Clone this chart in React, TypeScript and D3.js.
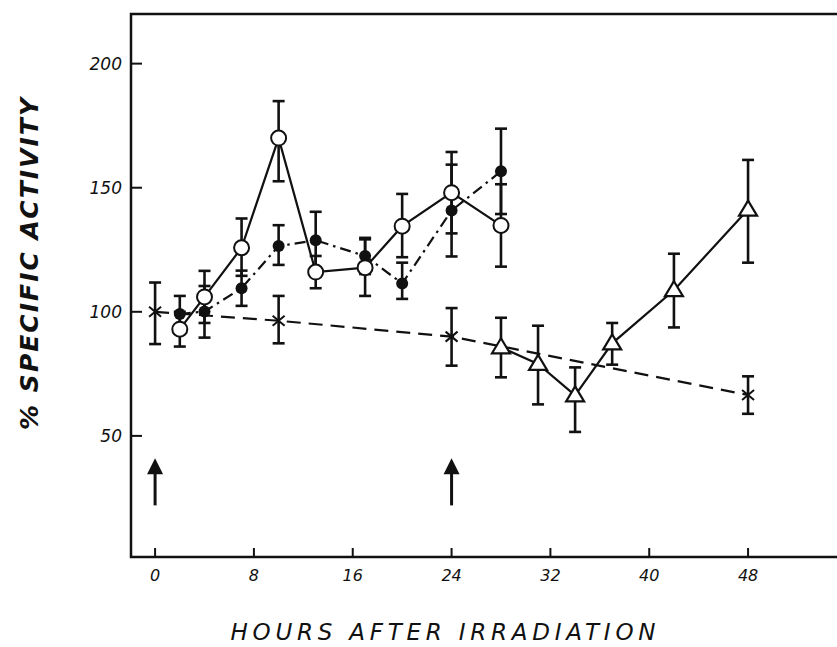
import { useEffect, useRef } from "react";
import * as d3 from "d3";

const width = 837;
const height = 647;
const frameLeft = 131;
const frameRight = 837;
const frameTop = 14;
const frameBottom = 557;

// hours after irradiation / % specific activity
const hoursCross = [0, 10, 24, 48];
const crossVals = [100, 96.4, 90, 66.5];
const crossLo = [87, 87.3, 78.3, 58.9];
const crossHi = [111.8, 106.4, 101.5, 74];

const hoursOpen = [2, 4, 7, 10, 13, 17, 20, 24, 28];
const openVals = [93, 106, 125.8, 170, 116, 117.8, 134.5, 148, 134.8];
const openLo = [86, 95.5, 114.5, 152.6, 109.5, 106.4, 122, 131.6, 118.2];
const openHi = [100, 116.5, 137.6, 184.9, 122.5, 129.2, 147.5, 164.4, 151.4];

const hoursFilled = [2, 4, 7, 10, 13, 17, 20, 24, 28];
const filledVals = [99.1, 100.1, 109.5, 126.5, 128.8, 122.5, 111.4, 140.8, 156.6];
const filledLo = [91.8, 89.6, 102.4, 118.9, 117.3, 115.2, 105.2, 122.3, 139.4];
const filledHi = [106.4, 110.4, 116.6, 134.9, 140.3, 129.8, 119.8, 159.3, 173.8];

const hoursTri = [28, 31, 34, 37, 42, 48];
const triVals = [85.7, 79, 66.3, 87.3, 108.7, 141.2];
const triLo = [73.6, 62.7, 51.6, 78.7, 93.7, 119.8];
const triHi = [97.6, 94.4, 77.6, 95.5, 123.4, 161.2];

// irradiation arrows
const arrowHours = [0, 24];
const arrowFrom = 22;
const arrowTo = 41;

const xTicks = [0, 8, 16, 24, 32, 40, 48];
const yTicks = [50, 100, 150, 200];

const x = d3.scaleLinear().domain([-1.95, 55.2]).range([frameLeft, frameRight]);
const y = d3.scaleLinear().domain([1.2, 220]).range([frameBottom, frameTop]);

const zip = (h: number[], v: number[], lo: number[], hi: number[]) =>
  h.map((d, i) => ({ h: d, v: v[i], lo: lo[i], hi: hi[i] }));

const App = () => {
  const ref = useRef<SVGGElement>(null);

  useEffect(() => {
    const g = d3.select(ref.current);
    g.selectAll("*").remove();

    const cross = zip(hoursCross, crossVals, crossLo, crossHi);
    const open = zip(hoursOpen, openVals, openLo, openHi);
    const filled = zip(hoursFilled, filledVals, filledLo, filledHi);
    const tri = zip(hoursTri, triVals, triLo, triHi);

    const line = d3
      .line<{ h: number; v: number }>()
      .x((d) => x(d.h))
      .y((d) => y(d.v));

    // lines
    g.append("path")
      .attr("d", line(cross))
      .attr("fill", "none")
      .attr("stroke", "#111")
      .attr("stroke-width", 2.2)
      .attr("stroke-dasharray", "14 8");
    g.append("path")
      .attr("d", line(filled))
      .attr("fill", "none")
      .attr("stroke", "#111")
      .attr("stroke-width", 2.2)
      .attr("stroke-dasharray", "11 5 2.5 5");
    g.append("path")
      .attr("d", line(open))
      .attr("fill", "none")
      .attr("stroke", "#111")
      .attr("stroke-width", 2.2);
    g.append("path")
      .attr("d", line(tri))
      .attr("fill", "none")
      .attr("stroke", "#111")
      .attr("stroke-width", 2.2);

    // error bars
    const bars = [...cross, ...open, ...filled, ...tri];
    const eb = g.append("g").attr("stroke", "#111").attr("stroke-width", 2.6);
    bars.forEach((d) => {
      eb.append("line")
        .attr("x1", x(d.h))
        .attr("x2", x(d.h))
        .attr("y1", y(d.lo))
        .attr("y2", y(d.hi));
      [d.lo, d.hi].forEach((v) => {
        eb.append("line")
          .attr("x1", x(d.h) - 6)
          .attr("x2", x(d.h) + 6)
          .attr("y1", y(v))
          .attr("y2", y(v));
      });
    });

    // markers
    g.selectAll(".cross")
      .data(cross)
      .join("path")
      .attr("class", "cross")
      .attr("transform", (d) => `translate(${x(d.h)},${y(d.v)})`)
      .attr("d", "M-6,-5L6,5M-6,5L6,-5")
      .attr("stroke", "#111")
      .attr("stroke-width", 2);

    g.selectAll(".filled")
      .data(filled)
      .join("circle")
      .attr("class", "filled")
      .attr("cx", (d) => x(d.h))
      .attr("cy", (d) => y(d.v))
      .attr("r", 6)
      .attr("fill", "#111");

    g.selectAll(".open")
      .data(open)
      .join("circle")
      .attr("class", "open")
      .attr("cx", (d) => x(d.h))
      .attr("cy", (d) => y(d.v))
      .attr("r", 7.5)
      .attr("fill", "white")
      .attr("stroke", "#111")
      .attr("stroke-width", 2);

    g.selectAll(".tri")
      .data(tri)
      .join("path")
      .attr("class", "tri")
      .attr("transform", (d) => `translate(${x(d.h)},${y(d.v)})`)
      .attr("d", "M0,-9L9,6L-9,6Z")
      .attr("fill", "white")
      .attr("stroke", "#111")
      .attr("stroke-width", 2.2);

    // arrows
    arrowHours.forEach((h) => {
      const ax = x(h);
      g.append("line")
        .attr("x1", ax)
        .attr("x2", ax)
        .attr("y1", y(arrowFrom))
        .attr("y2", y(arrowTo) + 12)
        .attr("stroke", "#111")
        .attr("stroke-width", 3);
      g.append("path")
        .attr(
          "d",
          `M${ax},${y(arrowTo)}L${ax + 8},${y(arrowTo) + 16}L${ax - 8},${y(arrowTo) + 16}Z`
        )
        .attr("fill", "#111");
    });
  }, []);

  return (
    <svg
      width={width}
      height={height}
      style={{ position: "absolute", left: 0, top: 0, background: "white" }}
    >
      {/* frame */}
      <path
        d={`M${frameRight},${frameTop}H${frameLeft}V${frameBottom}H${frameRight}`}
        fill="none"
        stroke="#111"
        strokeWidth={2.5}
      />
      {xTicks.map((t) => (
        <g key={t}>
          <line
            x1={x(t)}
            x2={x(t)}
            y1={frameBottom}
            y2={frameBottom - 9}
            stroke="#111"
            strokeWidth={2}
          />
          <text
            x={x(t)}
            y={581}
            textAnchor="middle"
            fontFamily="DejaVu Sans"
            fontStyle="italic"
            fontSize={16}
            fill="#111"
          >
            {t}
          </text>
        </g>
      ))}
      {yTicks.map((t) => (
        <g key={t}>
          <line
            x1={frameLeft}
            x2={frameLeft + 11}
            y1={y(t)}
            y2={y(t)}
            stroke="#111"
            strokeWidth={2}
          />
          <text
            x={122}
            y={y(t) + 6}
            textAnchor="end"
            fontFamily="DejaVu Sans"
            fontStyle="italic"
            fontSize={17}
            fill="#111"
          >
            {t}
          </text>
        </g>
      ))}
      <text
        x={443}
        y={640}
        textAnchor="middle"
        fontFamily="DejaVu Sans"
        fontStyle="italic"
        fontSize={23}
        textLength={425}
        lengthAdjust="spacing"
        fill="#111"
      >
        HOURS AFTER IRRADIATION
      </text>
      <text
        transform={`translate(38,264) rotate(-90)`}
        textAnchor="middle"
        fontFamily="DejaVu Sans"
        fontStyle="italic"
        fontWeight="bold"
        fontSize={25}
        textLength={332}
        lengthAdjust="spacing"
        fill="#111"
      >
        % SPECIFIC ACTIVITY
      </text>
      <g ref={ref}></g>
    </svg>
  );
};

export default App;
